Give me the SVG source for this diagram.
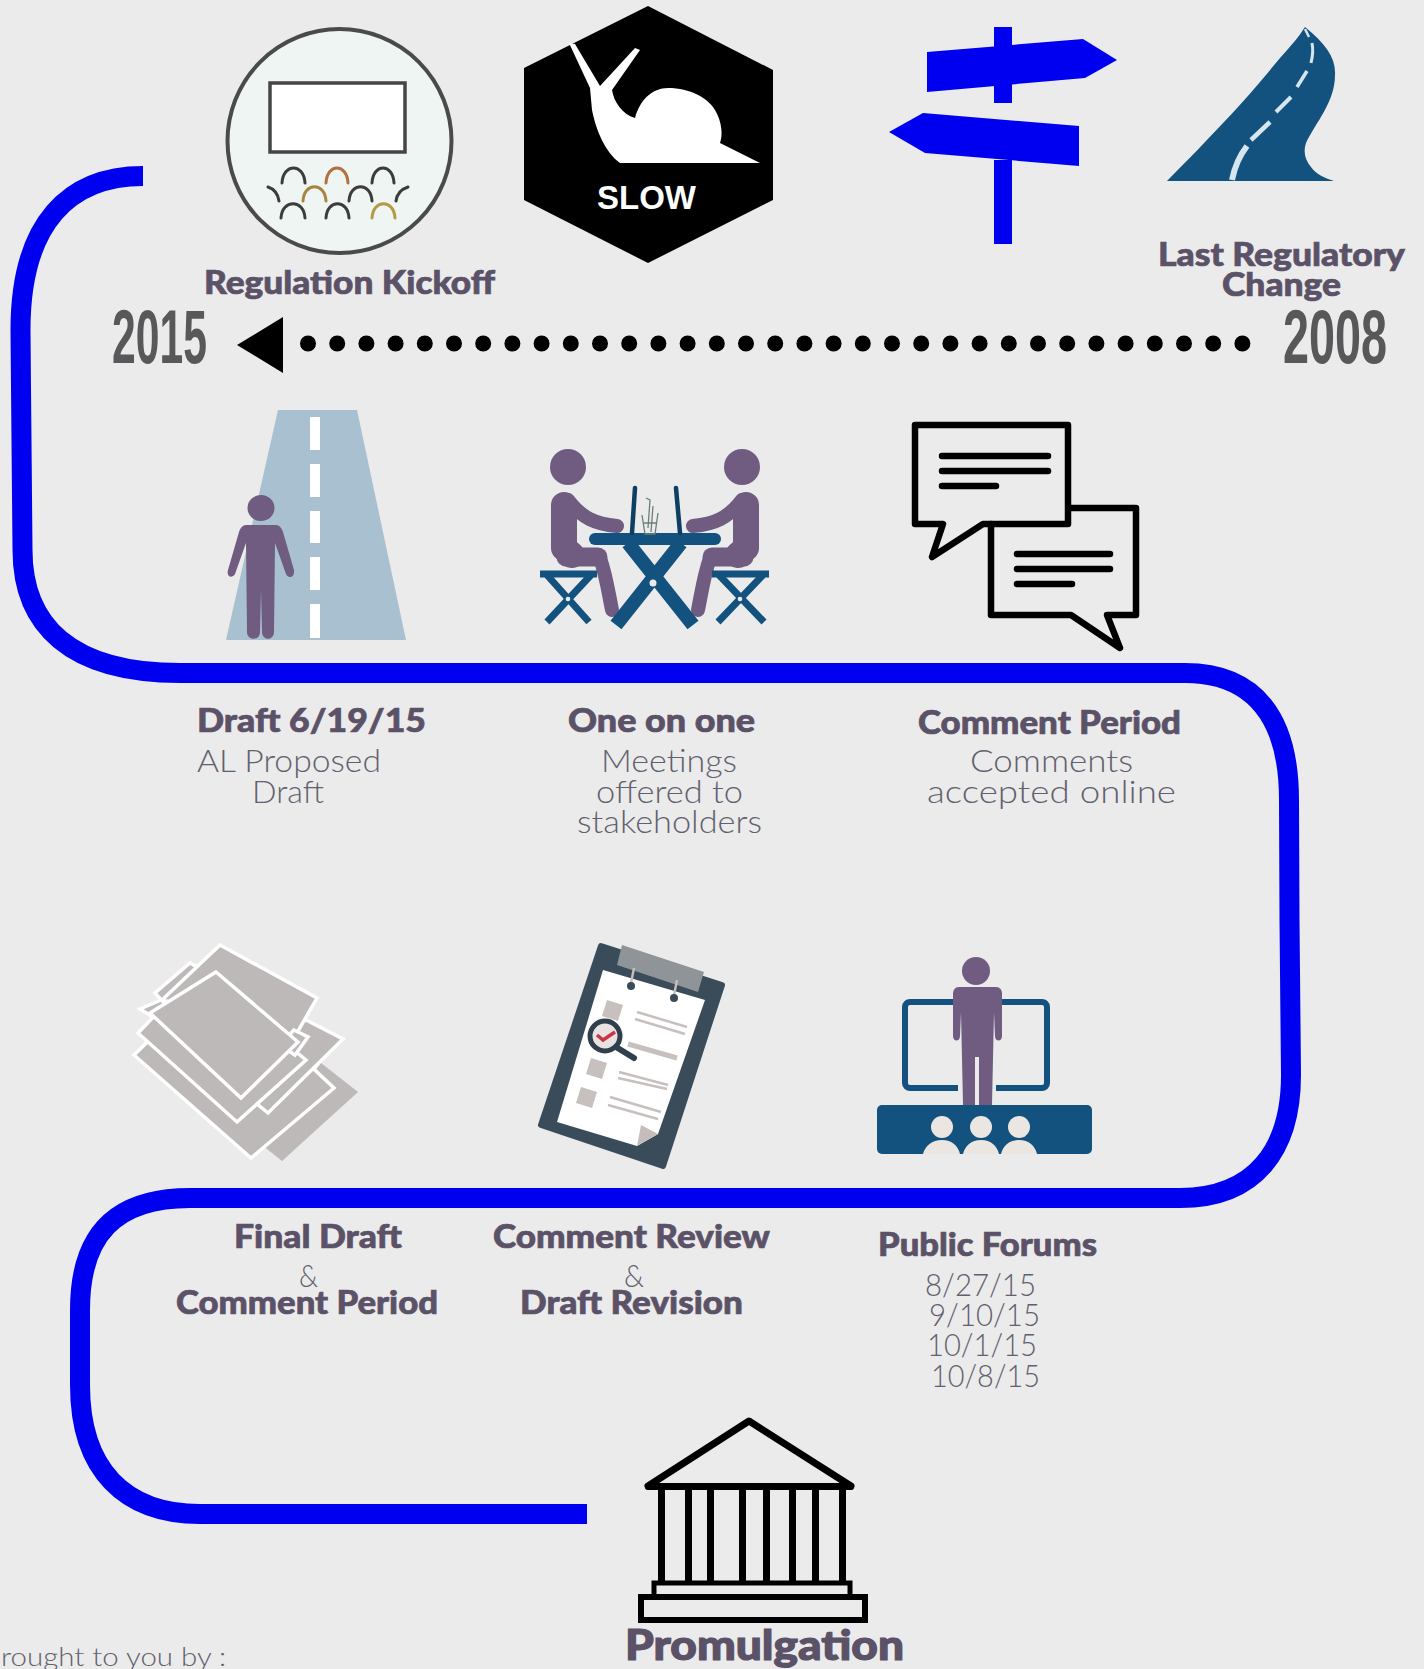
<svg xmlns="http://www.w3.org/2000/svg" width="1424" height="1669" viewBox="0 0 1424 1669">
<style>
.h{font-family:"Lato","Liberation Sans",sans-serif;font-weight:900;fill:#5b5268;stroke:#5b5268;stroke-width:.7px;font-size:32px}
.t{font-family:"Lato","Liberation Sans",sans-serif;font-weight:300;fill:#62606e;font-size:31px}
.y{font-family:"Liberation Sans Narrow","Liberation Sans",sans-serif;font-weight:700;fill:#58585a;font-size:76px}
.p{fill:#6f5c80}
.pl{stroke:#6f5c80;fill:none;stroke-linecap:round;stroke-linejoin:round}
.n{fill:#13527f}
.nl{stroke:#13527f;fill:none}
.k{stroke:#000;fill:none;stroke-linecap:round;stroke-linejoin:round}
.sh{fill:#bdb9b8;stroke:#fff;stroke-width:3.5;stroke-linejoin:miter}
.arc{fill:none;stroke-width:3;stroke:#3c3c3c;stroke-linecap:round}
.cl{stroke:#c8bfbf;stroke-width:2.4}
</style>
<rect width="1424" height="1669" fill="#ebebeb"/>
<g id="connectors">
<path fill="none" stroke="#0000f0" stroke-width="20" d="M143,176 C70,176 20.5,222 20.5,330 L21,387 L22.5,550 C22.5,625 70,673 180,673 L1185,673 C1255,673 1289,718 1289,800 L1289.5,920 L1291,1075 C1291,1150 1255,1198 1180,1198 L190,1198 C115,1198 80,1235 80,1310 L80,1385 C80,1470 125,1514 200,1514 L587,1514"/>
<line x1="308" y1="343.5" x2="1243" y2="343.5" stroke="#000" stroke-width="16" stroke-linecap="round" stroke-dasharray="0 29.2"/>
<polygon points="237,345 283,317 283,373" fill="#000"/>
</g>
<g id="kickoff">
<circle cx="339.5" cy="141" r="112" fill="#eef5f3" stroke="#4a4a4a" stroke-width="4"/>
<rect x="270" y="83" width="135" height="69" fill="#fff" stroke="#454545" stroke-width="3.5"/>
<g class="arc">
<path d="M282,183 C283,163 304,163 305,183"/><path d="M326,183 C327,163 347,163 348,183" stroke="#b3703c"/><path d="M372,183 C373,163 393,163 394,183"/>
<path d="M268,187 C274,189 278,194 279,201"/><path d="M303,201 C304,182 325,182 326,201" stroke="#a8853f"/><path d="M349,201 C350,182 371,182 372,201"/><path d="M396,201 C397,193 402,189 408,187"/>
<path d="M281,218 C282,199 304,199 305,218"/><path d="M326,218 C327,199 348,199 349,218"/><path d="M372,218 C373,199 394,199 395,218" stroke="#b39a45"/>
</g>
<text class="h" x="204" y="294" textLength="291" lengthAdjust="spacingAndGlyphs">Regulation Kickoff</text>
</g>
<g id="slow">
<polygon points="648,6 773,70 773,200 648,263 524,200 524,68" fill="#000"/>
<path fill="#fff" d="M569,43 L575,44 L600,86 L635,48 L640,50 L612,90 C614,102 622,114 635,118 C640,100 652,88 668,88 C690,88 708,98 715,110 C722,122 723,135 720,143 L760,163 L620,163 C605,152 596,130 592,110 L590,88 Z"/>
<text x="597" y="209" font-family="Liberation Sans,sans-serif" font-weight="700" font-size="33" fill="#fff" textLength="99" lengthAdjust="spacingAndGlyphs">SLOW</text>
</g>
<g id="signpost" fill="#0000f0">
<rect x="994" y="27" width="18" height="76"/>
<rect x="994" y="160" width="18" height="84"/>
<polygon points="927,52 1083,39 1117,60 1085,78 927,92"/>
<polygon points="889,132 923,113 1079,126 1079,166 925,153"/>
</g>
<g id="last-change">
<path class="n" d="M1305,27 C1326,44 1336,58 1335,75 C1335,102 1316,122 1306,143 C1303,152 1305,160 1311,167 C1316,174 1324,178 1334,181 L1167,181 C1190,158 1207,140 1224,122 C1245,100 1266,75 1280,58 C1292,45 1300,35 1305,27 Z"/>
<g fill="none" stroke="#d5e6ee" stroke-linecap="butt">
<path stroke-width="6" d="M1232,180 C1235,165 1240,155 1247,146"/>
<path stroke-width="4.5" d="M1251,140 L1270,122"/>
<path stroke-width="4" d="M1276,112 L1291,97"/>
<path stroke-width="3.5" d="M1297,87 L1307,71"/>
<path stroke-width="3" d="M1311,63 C1313,55 1313,48 1312,43"/>
<path stroke-width="2.5" d="M1309,37 L1305,29"/>
</g>
<text class="h" x="1158" y="266" textLength="247" lengthAdjust="spacingAndGlyphs">Last Regulatory</text>
<text class="h" x="1222" y="296" textLength="119" lengthAdjust="spacingAndGlyphs">Change</text>
</g>
<g id="year-2015"><text class="y" x="112" y="363" textLength="95" lengthAdjust="spacingAndGlyphs">2015</text></g>
<g id="year-2008"><text class="y" x="1283" y="363" textLength="104" lengthAdjust="spacingAndGlyphs">2008</text></g>
<g id="draft">
<polygon points="278,410 357,410 406,640 226,640" fill="#a8c0d0"/>
<g fill="#fff"><rect x="310" y="417" width="10" height="33"/><rect x="310" y="464" width="10" height="33"/><rect x="310" y="511" width="10" height="32"/><rect x="310" y="557" width="10" height="33"/><rect x="310" y="604" width="10" height="34"/></g>
<ellipse class="p" cx="261" cy="508" rx="13.5" ry="13"/>
<path class="p" d="M246,525 L276,525 C280,525 282,529 283,532 L294,570 C295,578 288,579 286,574 L275,543 L274,632 C274,641 262,641 262,632 L261,590 L260,632 C260,641 247,641 247,632 L246,543 L235,574 C232,579 226,577 228,570 L239,532 C240,529 242,525 246,525 Z"/>
<text class="h" x="197" y="732" textLength="229" lengthAdjust="spacingAndGlyphs">Draft 6/19/15</text>
<text class="t" x="197" y="772" textLength="184" lengthAdjust="spacingAndGlyphs">AL Proposed</text>
<text class="t" x="252" y="803" textLength="72" lengthAdjust="spacingAndGlyphs">Draft</text>
</g>
<g id="one-on-one">
<g class="p"><ellipse cx="568" cy="467" rx="18" ry="18"/><ellipse cx="742" cy="467" rx="18" ry="18"/></g>
<g class="pl">
<path stroke-width="26" d="M564,505 L564,548 L572,555"/><path stroke-width="19" d="M566,557 L598,557"/><path stroke-width="14" d="M600,558 C606,575 608,590 612,610"/><path stroke-width="14" d="M568,500 C582,518 595,524 617,526"/>
<path stroke-width="26" d="M746,505 L746,548 L738,555"/><path stroke-width="19" d="M744,557 L712,557"/><path stroke-width="14" d="M710,558 C704,575 702,590 698,610"/><path stroke-width="14" d="M742,500 C728,518 715,524 693,526"/>
</g>
<g class="nl" stroke-width="14">
<line x1="628" y1="543" x2="693" y2="625"/><line x1="681" y1="543" x2="616" y2="625"/>
<line x1="595" y1="539" x2="715" y2="539" stroke-width="12" stroke-linecap="round"/>
</g>
<g class="nl" stroke-width="7">
<line x1="540" y1="574" x2="597" y2="574"/><line x1="712" y1="574" x2="769" y2="574"/>
<line x1="547" y1="575" x2="589" y2="622"/><line x1="591" y1="575" x2="547" y2="622"/>
<line x1="719" y1="575" x2="764" y2="622"/><line x1="763" y1="575" x2="718" y2="622"/>
</g>
<g fill="#ebebeb"><circle cx="653" cy="583" r="3.5"/><circle cx="568" cy="599" r="2.3"/><circle cx="740" cy="599" r="2.3"/></g>
<g stroke="#0d3f62" stroke-width="4.5" stroke-linecap="round" fill="none"><line x1="635" y1="488" x2="632" y2="533"/><line x1="676" y1="488" x2="680" y2="533"/></g>
<path fill="none" stroke="#6b7f78" stroke-width="1.3" d="M642,515 L645,534 L655,534 L658,513 M644,523 L656,523 M646,498 L650,500 L648,528 M653,506 L651,532"/>
<text class="h" x="568" y="732" textLength="187" lengthAdjust="spacingAndGlyphs">One on one</text>
<text class="t" x="601" y="772" textLength="136" lengthAdjust="spacingAndGlyphs">Meetings</text>
<text class="t" x="596" y="803" textLength="147" lengthAdjust="spacingAndGlyphs">offered to</text>
<text class="t" x="577" y="833" textLength="185" lengthAdjust="spacingAndGlyphs">stakeholders</text>
</g>
<g id="comment-period">
<g class="k" stroke-width="6.5">
<path d="M1069,508 L1136,508 L1136,615 L1107,615 L1120,648 L1071,615 L991,615 L991,524"/>
<path d="M915,425 L1068,425 L1068,524 L983,524 L932,557 L943,524 L915,524 Z"/>
<path d="M942,456 L1048,456 M942,471 L1048,471 M942,486 L996,486 M1017,554 L1110,554 M1017,569 L1110,569 M1017,584 L1072,584"/>
</g>
<text class="h" x="918" y="734" textLength="263" lengthAdjust="spacingAndGlyphs">Comment Period</text>
<text class="t" x="970" y="772" textLength="163" lengthAdjust="spacingAndGlyphs">Comments</text>
<text class="t" x="927" y="803" textLength="249" lengthAdjust="spacingAndGlyphs">accepted online</text>
</g>
<g id="final-draft">
<polygon points="321,1063 358,1092 282,1161 262,1145" fill="#bdb9b8"/>
<polygon class="sh" points="134,1055 251,1158 334,1088 240,1000 160,1030"/>
<polygon class="sh" points="306,1020 343,1039 268,1113 240,1090 270,1040"/>
<polygon class="sh" points="138,1033 237,1122 306,1060 220,990 160,1010"/>
<polygon class="sh" points="155,993 190,963 220,980 175,1015"/>
<polygon class="sh" points="140,1009 161,1000 175,1010 153,1017"/>
<polygon class="sh" points="220,945 317,998 294,1038 240,1020 162,1000"/>
<polygon class="sh" points="294,1030 308,1037 295,1055 280,1045"/>
<polygon class="sh" points="216,972 298,1042 241,1098 150,1013"/>
<text class="h" x="234" y="1248" textLength="168" lengthAdjust="spacingAndGlyphs">Final Draft</text>
<text class="t" x="299" y="1287" textLength="19" lengthAdjust="spacingAndGlyphs">&amp;</text>
<text class="h" x="176" y="1314" textLength="262" lengthAdjust="spacingAndGlyphs">Comment Period</text>
</g>
<g id="comment-review">
<polygon points="601,946 722,985 663,1166 541,1125" fill="#3a4c59" stroke="#3a4c59" stroke-width="6" stroke-linejoin="round"/>
<polygon points="603,970 705,1000 658,1134 637,1146 557,1122" fill="#fff"/>
<polygon points="622,945 704,972 698,992 617,965" fill="#8e9497"/>
<polygon points="641,1125 658,1134 637,1146" fill="#c5bdbc"/>
<g class="cl"><line x1="634" y1="968" x2="631" y2="983"/><line x1="677" y1="980" x2="674" y2="995"/></g>
<g fill="#3a4c59"><circle cx="631" cy="986" r="4"/><circle cx="674" cy="998" r="4"/></g>
<g fill="#c8bfbf">
<polygon points="607,1000 623,1005 618,1021 602,1016"/><polygon points="591,1058 607,1063 602,1079 586,1074"/><polygon points="581,1087 597,1092 592,1108 576,1103"/>
</g>
<g stroke="#c8bfbf" stroke-width="2.5">
<line x1="637" y1="1012" x2="687" y2="1027"/><line x1="635" y1="1019" x2="685" y2="1034"/><line x1="628" y1="1044" x2="677" y2="1058" stroke-width="5"/><line x1="619" y1="1072" x2="668" y2="1085"/><line x1="618" y1="1078" x2="667" y2="1089"/><line x1="610" y1="1097" x2="661" y2="1112"/><line x1="608" y1="1105" x2="658" y2="1119"/>
</g>
<circle cx="605" cy="1036" r="15" fill="#e9e2e2" stroke="#2f3f4b" stroke-width="5"/>
<line x1="616" y1="1047" x2="634" y2="1058" stroke="#2f3f4b" stroke-width="6" stroke-linecap="round"/>
<path d="M597,1035 L603,1040 L615,1032" fill="none" stroke="#cc3344" stroke-width="3.5"/>
<text class="h" x="493" y="1248" textLength="277" lengthAdjust="spacingAndGlyphs">Comment Review</text>
<text class="t" x="624" y="1287" textLength="20" lengthAdjust="spacingAndGlyphs">&amp;</text>
<text class="h" x="520" y="1314" textLength="223" lengthAdjust="spacingAndGlyphs">Draft Revision</text>
</g>
<g id="public-forums">
<rect x="905" y="1002" width="142" height="86" rx="5" class="nl" stroke-width="6"/>
<rect x="958" y="1080" width="38" height="14" fill="#ebebeb"/>
<rect x="877" y="1105" width="215" height="49" rx="5" class="n"/>
<g fill="#ebe6e1">
<circle cx="942" cy="1127" r="11"/><circle cx="981" cy="1127" r="11"/><circle cx="1019" cy="1127" r="11"/>
<path d="M923,1154 C925,1146 932,1140 942,1140 C952,1140 958,1146 960,1154 Z"/><path d="M963,1154 C965,1146 971,1140 981,1140 C991,1140 997,1146 999,1154 Z"/><path d="M1001,1154 C1003,1146 1009,1140 1019,1140 C1029,1140 1035,1146 1037,1154 Z"/>
</g>
<circle class="p" cx="976" cy="971" r="14"/>
<path class="p" d="M959,987 L996,987 C1000,987 1002,990 1002,994 L1002,1036 C1002,1042 995,1042 995,1036 L994,1012 L992,1105 L979,1105 L979,1057 L975,1057 L975,1105 L963,1105 L961,1012 L960,1036 C960,1042 953,1042 953,1036 L953,994 C953,990 955,987 959,987 Z"/>
<text class="h" x="878" y="1256" textLength="219" lengthAdjust="spacingAndGlyphs">Public Forums</text>
<text class="t" x="925" y="1296" textLength="111" lengthAdjust="spacingAndGlyphs">8/27/15</text>
<text class="t" x="929" y="1326" textLength="111" lengthAdjust="spacingAndGlyphs">9/10/15</text>
<text class="t" x="927" y="1356" textLength="110" lengthAdjust="spacingAndGlyphs">10/1/15</text>
<text class="t" x="931" y="1387" textLength="109" lengthAdjust="spacingAndGlyphs">10/8/15</text>
</g>
<g id="promulgation">
<path class="k" stroke-width="7" d="M648,1486 L749,1421 L851,1486"/>
<rect x="645" y="1483" width="209" height="7" rx="3"/>
<g fill="#000"><rect x="658" y="1488" width="7" height="95"/><rect x="685" y="1488" width="7" height="95"/><rect x="707" y="1488" width="7" height="95"/><rect x="739" y="1488" width="7" height="95"/><rect x="763" y="1488" width="7" height="95"/><rect x="789" y="1488" width="7" height="95"/><rect x="812" y="1488" width="7" height="95"/><rect x="839" y="1488" width="7" height="95"/></g>
<rect x="654" y="1583" width="196" height="14" fill="none" stroke="#000" stroke-width="5"/>
<rect x="641" y="1597" width="224" height="23" fill="none" stroke="#000" stroke-width="6"/>
<text class="h" x="625" y="1660" style="font-size:42px;stroke-width:1.2px" textLength="279" lengthAdjust="spacingAndGlyphs">Promulgation</text>
</g>
<g id="credit"><text class="t" x="1" y="1666" style="font-size:25px" textLength="225" lengthAdjust="spacingAndGlyphs">rought to you by :</text></g>
</svg>
